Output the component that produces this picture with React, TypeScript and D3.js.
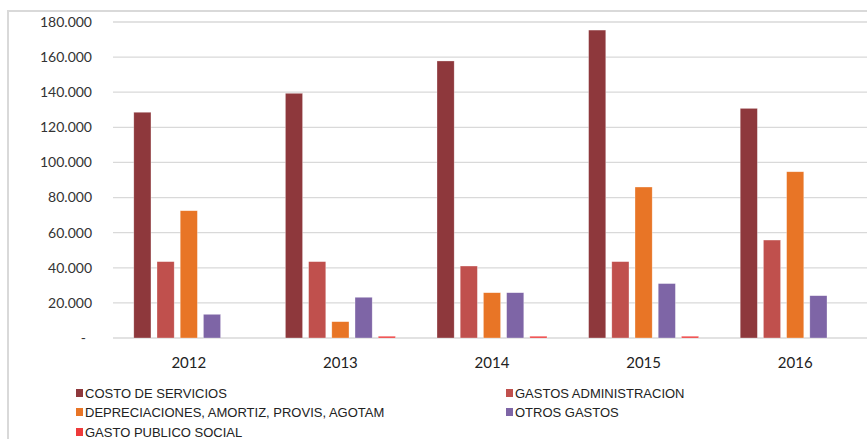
import React from "react";
import * as d3 from "d3";

const years = ["2012", "2013", "2014", "2015", "2016"];
const seriesNames = [
  "COSTO DE SERVICIOS",
  "GASTOS ADMINISTRACION",
  "DEPRECIACIONES, AMORTIZ, PROVIS, AGOTAM",
  "OTROS GASTOS",
  "GASTO PUBLICO SOCIAL",
];
const costoServicios = [128600, 139400, 157800, 175400, 130800];
const gastosAdministracion = [43500, 43500, 41000, 43500, 55800];
const depreciaciones = [72500, 9300, 25800, 86000, 94700];
const otrosGastos = [13500, 23200, 25800, 31000, 24100];
const gastoPublicoSocial = [0, 1000, 1000, 1000, 0];
const yTicks = [0, 20000, 40000, 60000, 80000, 100000, 120000, 140000, 160000, 180000];
const colors = ["#8E383C", "#C0504D", "#E87526", "#7E65A6", "#EE3A3A"];

const allSeries = [costoServicios, gastosAdministracion, depreciaciones, otrosGastos, gastoPublicoSocial];

export default function App() {
  const W = 867, H = 439;
  const x0 = 113, plotW = 758;
  const y = d3.scaleLinear().domain([0, 180000]).range([338, 22]);
  const x = d3.scaleBand().domain(years).range([x0, x0 + plotW]).paddingInner(0).paddingOuter(0);
  const groupW = 110;
  const inner = d3.scaleBand().domain(seriesNames).range([0, groupW]).paddingInner(0.26).paddingOuter(0);
  const fmt = (v: number) => (v === 0 ? "-" : d3.format(",.3f")(v / 1000).replace(/,/g, "."));
  const label = (v: number) => {
    if (v === 0) return "-";
    const s = String(v / 1000);
    return s + ".000";
  };
  const legendPos = [
    [76, 393], [506, 393], [76, 412], [506, 412], [76, 432],
  ];
  return (
    <svg width={W} height={H} style={{ position: "absolute", left: 0, top: 0, background: "#fff" }}>
      <rect x={0} y={0} width={W} height={H} fill="#fff" />
      <line x1={8} y1={11} x2={W} y2={11} stroke="#D9D9D9" strokeWidth={2} />
      <line x1={8} y1={10} x2={8} y2={H} stroke="#D9D9D9" strokeWidth={2} />
      {yTicks.map((t) => (
        <g key={t}>
          <line x1={x0} x2={W} y1={y(t)} y2={y(t)} stroke="#D9D9D9" strokeWidth={1.3} />
          <text
            x={t === 0 ? 86 : 92}
            y={y(t)}
            dy="0.35em"
            textAnchor="end"
            fontFamily="Lato, 'Open Sans', sans-serif"
            fontSize={14}
            fill="#333"
          >
            {label(t)}
          </text>
        </g>
      ))}
      {years.map((yr, i) => {
        const gx = (x(yr) as number) + (x.bandwidth() - groupW) / 2;
        return (
          <g key={yr}>
            {allSeries.map((s, j) =>
              s[i] > 0 ? (
                <rect
                  key={j}
                  x={gx + (inner(seriesNames[j]) as number)}
                  y={y(s[i])}
                  width={inner.bandwidth()}
                  height={y(0) - y(s[i])}
                  fill={colors[j]}
                  stroke="#fff"
                  strokeOpacity={0.5}
                  strokeWidth={0.6}
                />
              ) : null
            )}
            <text
              x={(x(yr) as number) + x.bandwidth() / 2}
              y={363}
              dy="0.35em"
              textAnchor="middle"
              fontFamily="Lato, 'Open Sans', sans-serif"
              fontSize={15}
              fill="#222"
            >
              {yr}
            </text>
          </g>
        );
      })}
      {seriesNames.map((n, j) => (
        <g key={n}>
          <rect x={legendPos[j][0]} y={legendPos[j][1] - 4} width={7} height={8} fill={colors[j]} />
          <text
            x={legendPos[j][0] + 9}
            y={legendPos[j][1]}
            dy="0.35em"
            fontFamily="'Liberation Sans Narrow', 'Arial Narrow', sans-serif"
            fontSize={13}
            fill="#222"
          >
            {n}
          </text>
        </g>
      ))}
    </svg>
  );
}
